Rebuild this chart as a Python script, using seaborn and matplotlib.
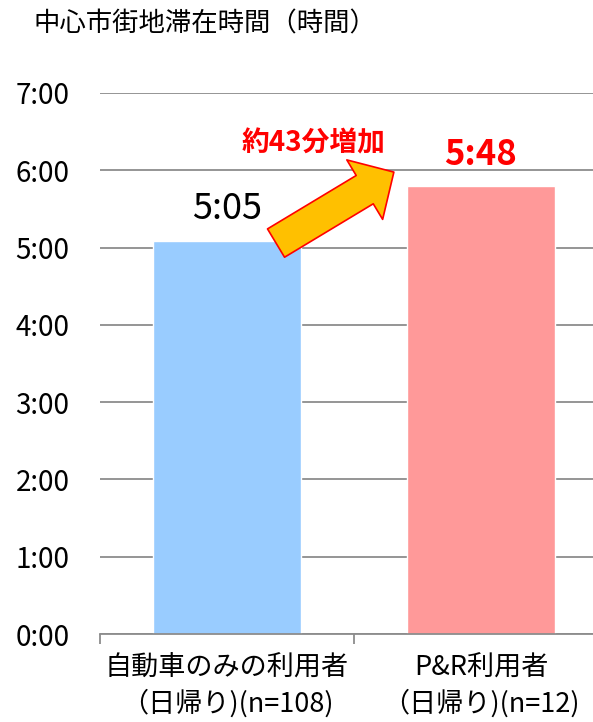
import matplotlib
matplotlib.use("Agg")
import matplotlib.pyplot as plt
import seaborn as sns
import pandas as pd
from matplotlib.ticker import FixedLocator, FuncFormatter

# Average stay in the city centre, in minutes
categories = ["自動車のみの利用者\n（日帰り)(n=108)", "P&R利用者\n（日帰り)(n=12)"]
stay_minutes = [305, 348]
bar_colors = ["#99CCFF", "#FF9999"]
y_ticks_minutes = [0, 60, 120, 180, 240, 300, 360, 420]
title_text = "中心市街地滞在時間（時間）"

sns.set_theme(style="white")
plt.rcParams["font.family"] = ["Noto Sans CJK JP", "DejaVu Sans"]


def hm(minutes, pos=None):
    m = int(round(minutes))
    return f"{m // 60}:{m % 60:02d}"


df = pd.DataFrame({"group": categories, "minutes": stay_minutes})

fig = plt.figure(figsize=(5.93, 7.22), dpi=100)
ax = fig.add_axes([100 / 593, 88 / 722, 508 / 593, 541 / 722])

sns.barplot(data=df, x="group", y="minutes", hue="group", palette=bar_colors,
            width=0.58, legend=False, ax=ax, saturation=1)

ax.set_xlim(-0.5, 1.5)
ax.set_ylim(0, 420)
ax.yaxis.set_major_locator(FixedLocator(y_ticks_minutes))
ax.yaxis.set_major_formatter(FuncFormatter(hm))
ax.grid(axis="y", color="#8c8c8c", linewidth=1.3)
ax.set_axisbelow(True)
for side in ("left", "right", "top"):
    ax.spines[side].set_visible(False)
ax.spines["bottom"].set_color("#8c8c8c")
ax.spines["bottom"].set_linewidth(1.3)

ax.tick_params(axis="y", length=0, pad=22, labelsize=20, labelcolor="black")
ax.set_xticks([0, 1])
ax.set_xticklabels(categories, fontsize=19.5, linespacing=1.35)
ax.tick_params(axis="x", which="major", length=0, pad=15, labelcolor="black")
ax.set_xticks([-0.5, 0.5, 1.5], minor=True)
ax.tick_params(axis="x", which="minor", length=7, width=1.3, color="#8c8c8c",
               direction="out", bottom=True)
ax.set_xlabel("")
ax.set_ylabel("")

# value labels
ax.text(0, stay_minutes[0] + 25, hm(stay_minutes[0]), ha="center", va="center",
        fontsize=26, color="black")
ax.text(1, stay_minutes[1] + 24, hm(stay_minutes[1]), ha="center", va="center",
        fontsize=25, color="#FF0000", fontweight="bold")

# increase arrow and caption
ax.annotate("", xy=(0.657, 358.6), xytext=(0.193, 303.5),
            arrowprops=dict(arrowstyle="simple,head_length=24.5,head_width=50,tail_width=23.8",
                            mutation_scale=1, fc="#FFC000", ec="#FF0000", lw=1.2,
                            shrinkA=0, shrinkB=0))
ax.text(0.339, 380.5, f"約{stay_minutes[1] - stay_minutes[0]}分増加", ha="center",
        va="center", fontsize=20, color="#FF0000", fontweight="bold")

fig.text(33 / 593, 1 - 24 / 722, title_text, ha="left", va="center", fontsize=19,
         color="black")

fig.savefig("out.png", dpi=100)
